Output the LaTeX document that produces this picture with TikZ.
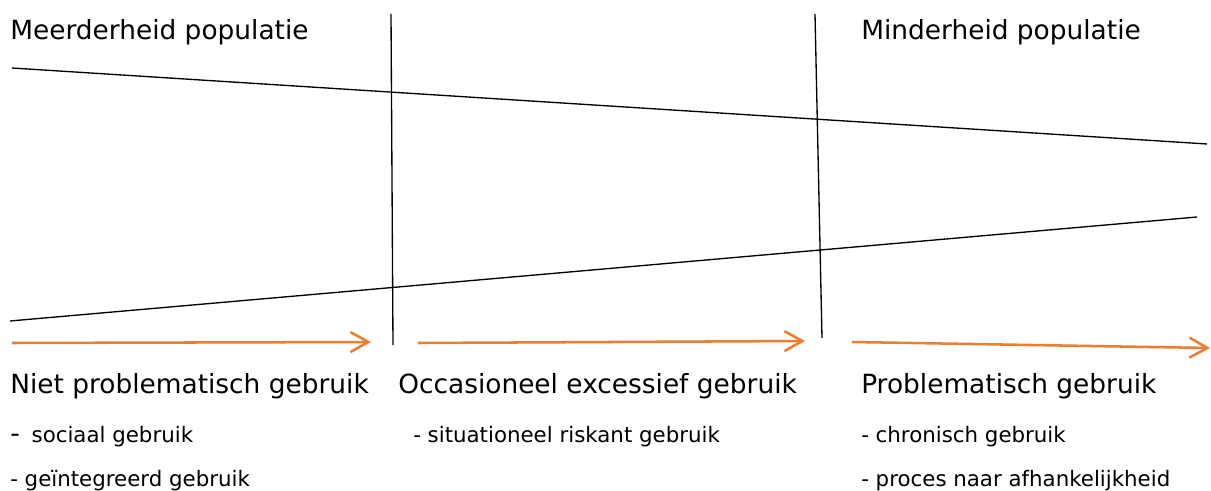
\documentclass[tikz,border=0pt]{standalone}
\usepackage{fontspec}
\setmainfont{DejaVu Sans}
\usetikzlibrary{arrows.meta}
\definecolor{arroworange}{RGB}{237,125,49}
\newcommand{\bigtxt}{\fontsize{19.8pt}{24pt}\selectfont}
\newcommand{\smalltxt}{\fontsize{16pt}{19pt}\selectfont}
\tikzset{
  divline/.style={draw=black, line width=1pt},
  flowarrow/.style={draw=arroworange, line width=1.9pt, -{Straight Barb[length=13.5pt,width=15pt,line width=1.9pt]}},
  heading/.style={anchor=base west, inner sep=0pt, font=\bigtxt},
  item/.style={anchor=base west, inner sep=0pt, font=\smalltxt},
}
\begin{document}
\begin{tikzpicture}[x=0.75pt,y=-0.75pt]
\useasboundingbox (0,0) rectangle (1211,491);
% crossing lines
\coordinate (t1) at (12,68);
\coordinate (t2) at (1207,144);
\coordinate (b1) at (10,321);
\coordinate (b2) at (1197,217);
\draw[divline] (t1) -- (t2);
\draw[divline] (b1) -- (b2);
% vertical dividers
\coordinate (v1a) at (391,14);
\coordinate (v1b) at (393,345);
\coordinate (v2a) at (815,14);
\coordinate (v2b) at (822,338);
\draw[divline] (v1a) -- (v1b);
\draw[divline] (v2a) -- (v2b);
% orange arrows
\coordinate (a1s) at (12,343);
\coordinate (a1e) at (371,342);
\coordinate (a2s) at (418,343);
\coordinate (a2e) at (805,341);
\coordinate (a3s) at (852,342);
\coordinate (a3e) at (1210,348);
\draw[flowarrow] (a1s) -- (a1e);
\draw[flowarrow] (a2s) -- (a2e);
\draw[flowarrow] (a3s) -- (a3e);
% top labels
\node[heading] (maj) at (10,40) {Meerderheid populatie};
\node[heading] (min) at (861,40) {Minderheid populatie};
% stage headings
\node[heading] (h1) at (10,394) {Niet problematisch gebruik};
\node[heading] (h2) at (398,394) {Occasioneel excessief gebruik};
\node[heading] (h3) at (861,394) {Problematisch gebruik};
% items
\node[item] (i1) at (10,443) {{\bigtxt -}\hspace{3.8pt} sociaal gebruik};
\node[item] (i2) at (10,487) {- geïntegreerd gebruik};
\node[item] (i3) at (413,443) {- situationeel riskant gebruik};
\node[item] (i4) at (861,443) {- chronisch gebruik};
\node[item] (i5) at (861,487) {- proces naar afhankelijkheid};
\end{tikzpicture}
\end{document}
